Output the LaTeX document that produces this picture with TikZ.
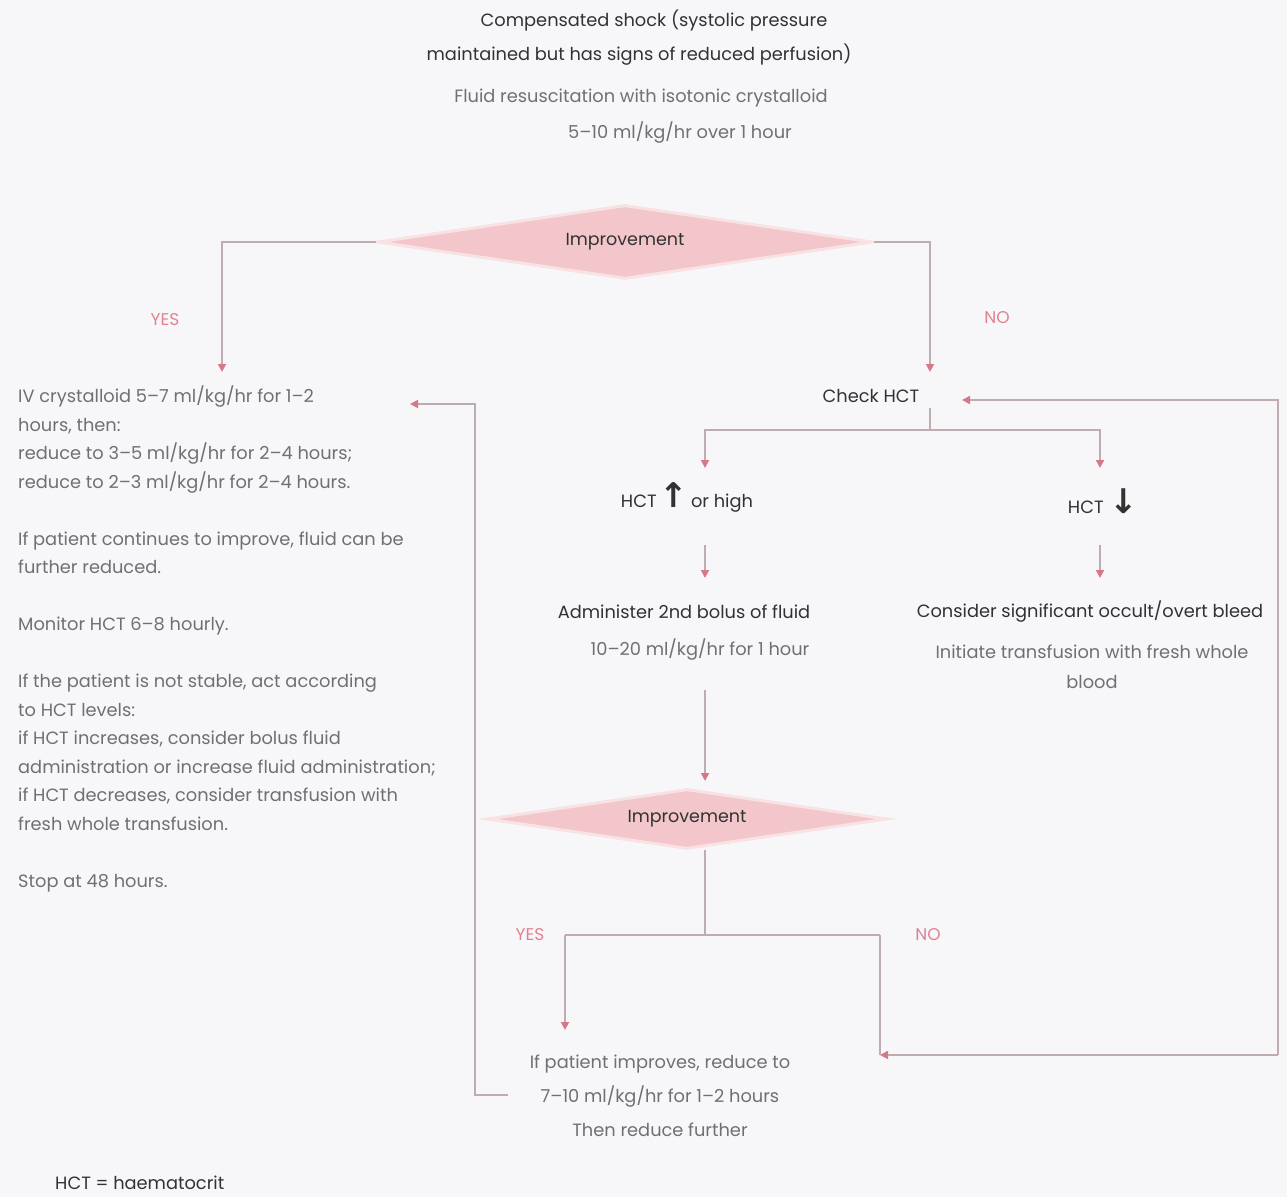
\documentclass[tikz,border=0pt]{standalone}
\usepackage{fontspec}
\setmainfont{Poppins}
\newfontfamily\arrowfont{DejaVu Sans}
\usetikzlibrary{arrows.meta,shapes.geometric}
\definecolor{bg}{RGB}{247,247,250}
\definecolor{linec}{RGB}{190,172,176}
\definecolor{tipc}{RGB}{214,120,136}
\definecolor{lblc}{RGB}{226,130,145}
\definecolor{decfill}{RGB}{242,198,202}
\definecolor{txtdark}{RGB}{50,50,50}
\definecolor{txtgray}{RGB}{112,112,112}
\begin{document}
\begin{tikzpicture}[x=1pt,y=-1pt,
  conn/.style={draw=linec, line width=1.8pt},
  arr/.style={conn, -{Triangle[length=8pt,width=8pt,color=tipc]}},
  txt/.style={inner sep=0pt, font=\fontsize{17.8}{28.5}\selectfont, text=txtgray},
  dark/.style={txt, text=txtdark},
  lbl/.style={inner sep=0pt, font=\fontsize{17}{20}\selectfont, text=lblc},
  decision/.style={diamond, fill=decfill, draw=decfill!50, line width=3pt, aspect=6.7,
    inner sep=0pt, font=\fontsize{17.5}{20}\selectfont, text=txtdark}]
% canvas
\fill[bg] (0,0) rectangle (1287,1197);
\useasboundingbox (0,0) rectangle (1287,1197);

% heading
\node[dark] (t1) at (654,20) {Compensated shock (systolic pressure};
\node[dark] (t2) at (639,55) {maintained but has signs of reduced perfusion)};
\node[txt] (f1) at (641,98) {Fluid resuscitation with isotonic crystalloid};
\node[txt] (f2) at (680,133) {5–10 ml/kg/hr over 1 hour};

% first decision
\node[decision, minimum width=495pt, minimum height=74pt] (d1) at (625,242) {Improvement};
\node[lbl] (yes1) at (165,320) {YES};
\node[lbl] (no1) at (997,318) {NO};

% maintenance plan
\node[txt, anchor=north west, align=left] (plan) at (18,386) {%
IV crystalloid 5–7 ml/kg/hr for 1–2\\
hours, then:\\
reduce to 3–5 ml/kg/hr for 2–4 hours;\\
reduce to 2–3 ml/kg/hr for 2–4 hours.\\[28.5pt]
If patient continues to improve, fluid can be\\
further reduced.\\[28.5pt]
Monitor HCT 6–8 hourly.\\[28.5pt]
If the patient is not stable, act according\\
to HCT levels:\\
if HCT increases, consider bolus fluid\\
administration or increase fluid administration;\\
if HCT decreases, consider transfusion with\\
fresh whole transfusion.\\[28.5pt]
Stop at 48 hours.};

% haematocrit branch
\node[dark] (chk) at (871,396) {Check HCT};
\node[dark] (hi) at (687,497) {HCT\,{\arrowfont\bfseries\fontsize{34}{34}\selectfont ↑}\,or high};
\node[dark] (lo) at (1103,501) {HCT\,\,{\arrowfont\bfseries\fontsize{34}{34}\selectfont ↓}};
\node[dark] (bolus) at (684,612) {Administer 2nd bolus of fluid};
\node[txt] (bolus2) at (700,650) {10–20 ml/kg/hr for 1 hour};
\node[dark] (bleed) at (1090,612) {Consider significant occult/overt bleed};
\node[txt, align=center, font=\fontsize{17.8}{30}\selectfont] (bleed2) at (1092,667) {Initiate transfusion with fresh whole\\blood};

% second decision
\node[decision, minimum width=400pt, minimum height=60pt] (d2) at (687,819) {Improvement};
\node[lbl] (yes2) at (530,935) {YES};
\node[lbl] (no2) at (928,935) {NO};
\node[txt, align=center, font=\fontsize{17.8}{34}\selectfont] (fin) at (660,1096)
  {If patient improves, reduce to\\7–10 ml/kg/hr for 1–2 hours\\Then reduce further};

\node[dark, anchor=west] (key) at (55,1183) {HCT = haematocrit};

% connector waypoints
\coordinate (yesin) at (222,372);
\coordinate (noin) at (930,372);
\coordinate (planin) at (410,404);
\coordinate (finw) at (508,1095);
\coordinate (loopl) at (475,1095);
\coordinate (loopt) at (475,404);
\coordinate (chkout) at (930,408);
\coordinate (split) at (930,430);
\coordinate (hiin) at (705,468);
\coordinate (loin) at (1100,468);
\coordinate (hiout) at (705,545);
\coordinate (boin) at (705,578);
\coordinate (loout) at (1100,545);
\coordinate (blin) at (1100,578);
\coordinate (boout) at (705,690);
\coordinate (d2in) at (705,781);
\coordinate (d2out) at (705,850);
\coordinate (fork) at (705,935);
\coordinate (yesturn) at (565,935);
\coordinate (finin) at (565,1030);
\coordinate (noturn) at (880,935);
\coordinate (nobot) at (880,1055);
\coordinate (rbot) at (1278,1055);
\coordinate (chkin) at (962,400);

% connectors
\draw[arr] (d1.west) -| (yesin);
\draw[arr] (d1.east) -| (noin);
\draw[arr] (finw) -- (loopl) -- (loopt) -- (planin);
\draw[conn] (chkout) -- (split);
\draw[arr] (split) -| (hiin);
\draw[arr] (split) -| (loin);
\draw[arr] (hiout) -- (boin);
\draw[arr] (loout) -- (blin);
\draw[arr] (boout) -- (d2in);
\draw[conn] (d2out) -- (fork);
\draw[conn] (yesturn) -- (noturn);
\draw[arr] (yesturn) -- (finin);
\draw[conn] (noturn) -- (nobot);
\draw[arr] (rbot) -- (nobot);
\draw[arr] (rbot) |- (chkin);
\end{tikzpicture}
\end{document}
